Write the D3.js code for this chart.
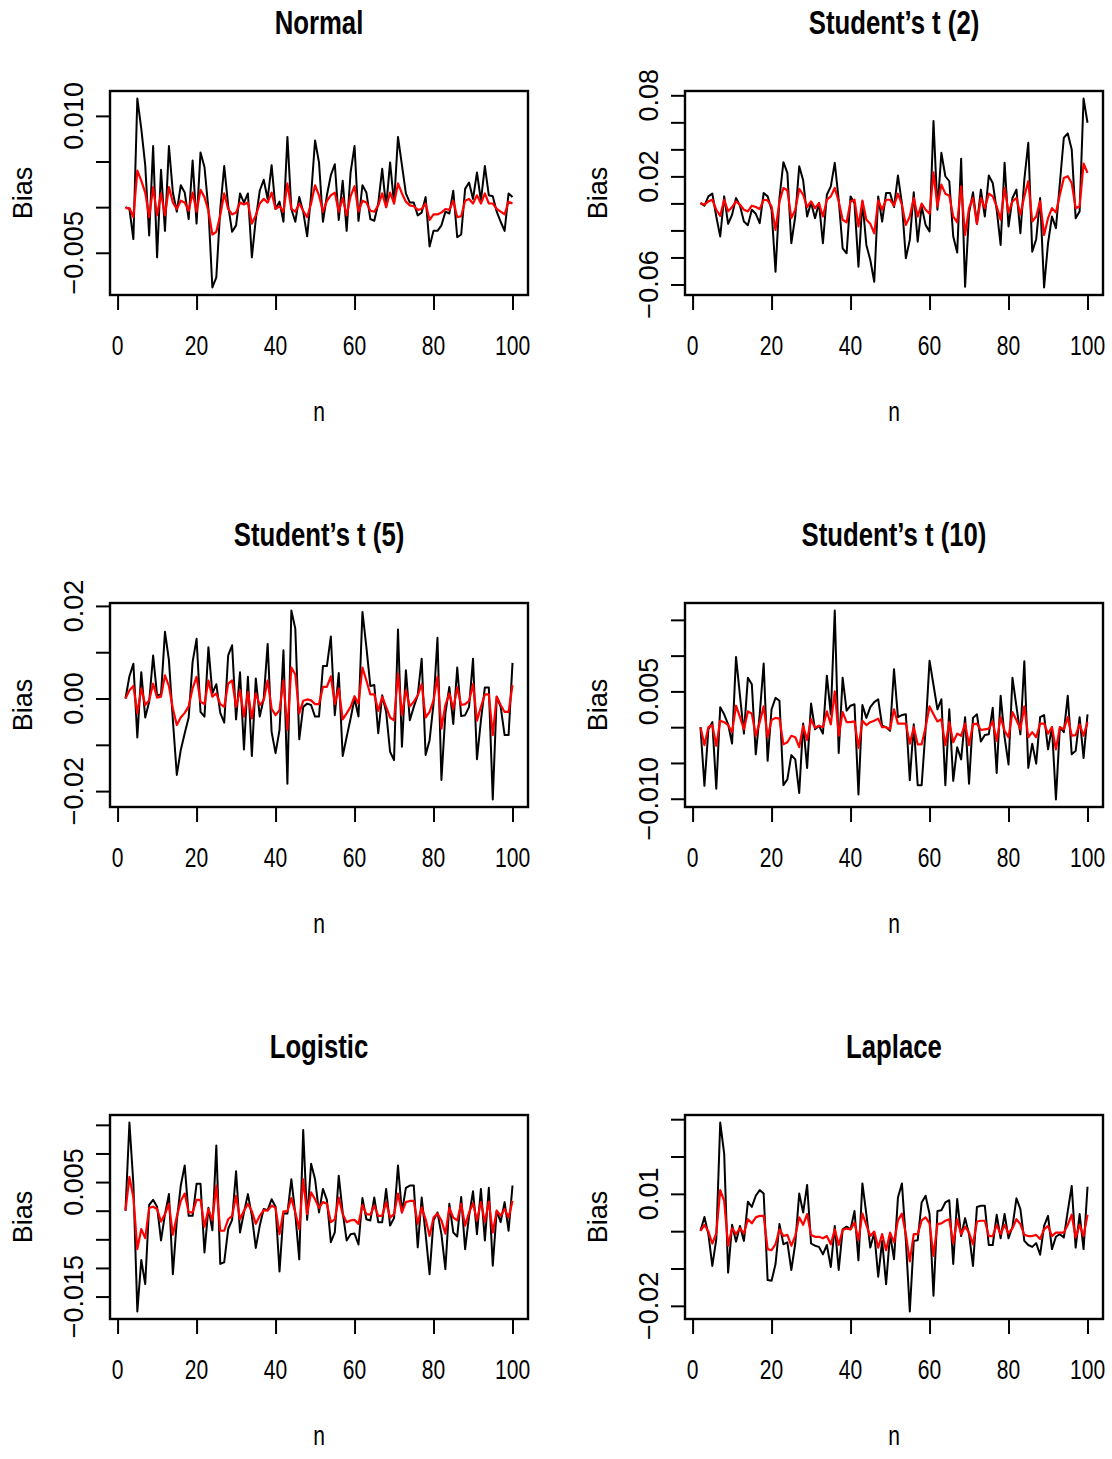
<!DOCTYPE html>
<html>
<head>
<meta charset="utf-8">
<script src="https://cdn.jsdelivr.net/npm/d3@7"></script>
<style>
  body { margin: 0; background: #fff; }
  text { font-family: "Liberation Sans", Arial, Helvetica, sans-serif; fill: #000; }
</style>
</head>
<body>
<div id="chart"></div>
<script>
// sample size n = 2..100 (x axis)
const nValues = d3.range(2, 101);
const xTicks = [0, 20, 40, 60, 80, 100];

// bias estimates, in units of 1e-3 (black and red curves)
const normalBlack = [0, -0.2, -3.5, 11.9, 8.6, 4.6, -3.1, 6.7, -5.5, 4.1, -2.6, 6.7, 1.6, -0.5, 2.4, 1.6, -1.3, 5.1, -1.8, 6.0, 4.4, -0.2, -8.8, -7.7, -0.2, 4.5, 0.2, -2.7, -2.0, 1.5, 0.5, 1.5, -5.5, -1.3, 1.8, 3.0, 0.9, 4.6, -0.2, 0.6, -1.6, 7.7, -0.2, -1.6, 1.1, -0.5, -3.2, 1.3,
  7.3, 4.9, -1.6, 1.3, 3.5, 4.7, -1.4, 2.9, -2.6, 3.8, 6.7, -1.5, 2.4, 1.6, -1.3, -1.5, 0.4, 4.2, 0, 4.9, 0.4, 7.7, 4.6, 1.5, 0.5, 0.5, -0.9, -0.6, 1.1, -4.3, -2.6, -2.6, -2.0, -0.5, -0.7, 1.8, -3.3, -3.0, 2.0, 2.7, 0.9, 3.8, 0.7, 4.5, 1.3, 1.2, -0.5, -1.6, -2.6, 1.5, 1.1];
const normalRed = [-0.1, -0.1, -1.1, 4.0, 2.9, 1.6, -1.1, 2.2, -0.9, 1.5, -0.9, 2.2, 0.5, -0.2, 0.7, 0.5, -0.4, 1.6, -0.5, 1.9, 1.1, -0.4, -3.0, -2.7, -0.9, 1.5, -0.2, -0.8, -0.6, 0.5, 0.3, 0.5, -1.8, -0.9, 0.4, 0.9, 0.5, 1.6, -0.2, 0.1, -0.5, 2.6, -0.2, -0.5, 0.4, -0.4, -1.1, 0.4,
  2.4, 1.3, -0.5, 0.7, 1.3, 1.6, -0.5, 1.0, -0.9, 1.2, 2.3, -0.5, 0.7, 0.5, -0.4, -0.5, 0.2, 1.5, 0, 1.6, 0.4, 2.6, 1.5, 0.6, 0.2, 0.1, -0.3, -0.2, 0.4, -1.4, -0.8, -0.8, -0.6, -0.2, -0.3, 0.7, -1.1, -1.0, 0.7, 0.9, 0.4, 1.3, 0.4, 1.5, 0.4, 0.4, -0.2, -0.5, -0.8, 0.6, 0.4];

const t2Black = [0.2, -1.7, 5.2, 7.2, -9.7, -24.5, 5.2, -15.1, -8.4, 4.0, -1.7, -13.4, -16.1, -4.7, -7.7, -14.6, 7.7, 5.2, -4.7, -50.6, 4.0, 30.5, 22.6, -29.5, -9.7, 27.5, 17.1, -9.7, 0.7, -10.9, 0.2, -29.5, 6.4, 12.6, 30.0, 2.7, -33.2, -36.9, 5.2, 0.2, -46.8, 1.5, -30.7, -41.9, -58.0, 5.2, -13.4, 7.7,
  7.7, -2.7, 20.6, 0.2, -40.6, -27.0, 8.2, -28.3, -2.2, -15.9, -20.8, 61.0, -4.7, 37.4, 20.1, 16.4, -24.5, -36.4, 33.0, -61.7, -7.2, 8.2, -15.1, 10.2, -9.7, 20.6, 15.1, -4.7, -30.7, 30.0, -17.1, 4.0, 10.2, -22.1, 17.6, 44.9, -35.7, -26.5, 4.0, -62.2, -29.5, -9.7, -18.3, 15.1, 48.6, 51.8, 39.9, -10.9, -5.9, 77.6, 59.7];
const t2Red = [0.2, -1.0, 1.5, 2.7, -4.7, -9.2, 2.7, -5.9, -2.7, 1.5, -1.0, -4.7, -5.9, -1.7, -2.7, -4.2, 2.7, 2.2, -2.2, -19.6, 1.5, 11.4, 9.7, -10.9, -4.7, 10.7, 6.4, -2.7, 1.5, -3.5, 0.2, -9.7, 2.7, 5.2, 11.4, 1.5, -12.1, -14.1, 1.5, 2.7, -17.1, 2.0, -12.1, -15.1, -22.1, 2.2, -4.7, 2.7,
  2.7, -1.7, 7.2, -1.0, -15.9, -9.7, 4.0, -9.7, -0.2, -4.7, -7.7, 23.0, -2.2, 13.9, 7.2, 5.7, -9.7, -14.1, 12.6, -23.3, -3.5, 4.0, -15.1, 4.0, -3.5, 7.2, 5.2, -2.2, -12.1, 11.4, -6.7, 1.5, 4.0, -8.4, 5.2, 16.4, -13.4, -9.7, 1.5, -23.3, -10.9, -3.5, -6.7, 6.4, 18.8, 20.1, 15.1, -3.5, -2.2, 29.5, 22.6];

const t5Black = [0, 4.8, 7.5, -8.4, 5.7, -4.1, -0.7, 9.3, 0.7, 0.9, 14.4, 8.3, -4.7, -16.5, -11.1, -7.5, -4.1, 7.9, 12.9, -2.9, -3.9, 11.1, 1.1, 3.1, -3.1, -5.2, 9.3, 11.5, -4.5, 5.7, -11.0, 4.7, -12.4, 4.3, -3.9, 0, 11.8, -7.2, -11.8, -6.8, 10.4, -18.4, 19.0, 15.1, -8.8, -1.8, -1.1, -1.4,
  -3.9, -3.9, 7.0, 7.0, 13.4, -3.6, 5.5, -12.4, -8.3, -4.3, 0, -3.9, 18.7, 11.1, 2.7, 2.9, -7.5, 0.7, -2.9, -11.5, -13.3, 14.9, -10.4, 6.1, -4.7, -1.8, 0.7, 8.6, -12.2, -9.0, -1.1, 13.1, -17.6, -3.2, 2.5, -5.5, 6.7, -3.8, -3.6, -1.8, 8.6, -13.1, -4.7, 2.4, 2.4, -21.8, 0.4, -1.8, -7.9, -7.9, 7.7];
const t5Red = [0, 1.8, 2.7, -3.2, 2.2, -1.4, -0.4, 3.2, 0.2, 0.4, 5.0, 2.7, -2.2, -5.7, -4.1, -3.1, -1.7, 2.2, 4.7, -0.7, -1.2, 3.9, 0.4, 1.1, -1.2, -1.8, 3.2, 3.9, -1.8, 1.8, -3.9, 1.4, -4.3, 1.1, -1.4, -0.4, 3.9, -2.2, -3.6, -2.5, 3.9, -6.8, 6.7, 5.2, -3.2, -0.5, -0.2, -0.4,
  -1.2, -1.2, 2.5, 2.5, 4.8, -1.2, 2.2, -4.5, -3.2, -1.8, 0.5, -1.1, 6.7, 3.9, 0.9, 0.9, -2.7, 0.4, -1.8, -4.1, -4.7, 5.4, -3.6, 1.8, -1.7, -0.7, 0.7, 3.1, -4.1, -2.9, -0.4, 4.7, -6.5, -1.4, 1.1, -2.2, 2.4, -1.4, -1.2, -0.5, 3.1, -4.8, -1.8, 0.9, 0.9, -7.9, 0.4, -1.4, -2.9, -2.9, 2.9];

const t10Black = [0, -8.2, -0.3, 0.7, -8.6, 2.8, 1.8, 0.4, -2.3, 9.8, 4.4, -0.9, 6.9, 6.0, -3.8, 1.8, 8.9, -4.7, 2.5, 4.1, 3.7, -8.1, -7.3, -3.9, -4.5, -9.2, 0.5, -5.7, 3.3, -0.3, 0.2, -0.9, 7.2, 1.8, 16.3, -3.6, 6.9, 2.3, 3.0, 3.2, -9.4, 3.1, 1.3, 2.8, 3.5, 3.9, 0.2, 0,
  -0.5, 8.1, 1.4, 1.7, 1.8, -7.4, 0.4, -8.1, -8.1, -0.3, 9.3, 5.9, 2.5, 3.9, -8.1, 2.5, -7.5, -2.8, -4.5, 1.4, -7.9, 1.3, 1.8, -2.0, -1.1, -1.0, 2.7, -6.4, 4.4, -1.4, -5.2, 6.9, 2.9, -1.0, 9.2, -5.7, -2.3, -5.1, 1.4, 1.7, -3.1, 0, -10.1, 0, -0.7, 4.4, -3.8, -3.3, 1.4, -4.3, 1.8];
const t10Red = [0, -2.5, 0, 0.3, -2.6, 0.9, 0.7, 0.3, -0.7, 3.0, 1.4, -0.3, 2.2, 1.9, -1.2, 0.7, 2.9, -1.4, 1.0, 1.3, 1.2, -2.4, -2.1, -1.2, -1.4, -2.8, 0.2, -1.8, 1.1, -0.1, 0.2, 0, 2.2, 0.4, 5.0, -1.2, 2.1, 0.7, 0.7, 0.8, -2.9, 0.9, 0.3, 0.7, 0.9, 1.2, 0, 0,
  -0.3, 2.5, 0.5, 0.5, 0.5, -2.3, 0, -2.4, -2.4, 0, 2.9, 1.8, 0.8, 1.1, -2.5, 0.7, -2.1, -0.9, -1.2, 0.5, -2.5, 0.4, 0.5, -0.4, -0.3, -0.2, 0.8, -1.9, 1.4, -0.5, -1.4, 2.1, 1.0, -0.3, 2.9, -1.4, -0.7, -1.4, 0.5, 0.5, -0.9, 0, -3.1, 0, -0.3, 1.4, -1.2, -1.1, 0.4, -1.2, 0.7];

const logisticBlack = [0, 15.4, 4.7, -17.6, -8.6, -12.8, 1.0, 1.9, 0.7, -5.2, -0.6, 2.9, -11.1, -1.7, 4.4, 7.9, -0.9, -0.9, 4.7, 4.7, -7.3, 0.5, -3.4, 11.4, -9.3, -9.0, -3.2, -1.6, 6.9, -3.8, -0.3, 2.9, -0.9, -6.5, -2.6, 0.3, 0.1, 2.0, 0.7, -10.6, -0.5, -0.5, 5.5, -0.6, -8.5, 14.1, -1.6, 8.2,
  5.5, -0.3, 3.8, 1.9, -5.5, -3.8, 6.1, -0.3, -5.2, -4.1, -4.0, -5.9, 2.2, -1.5, -1.7, 2.3, -2.0, -2.0, 3.8, -2.6, -1.3, 7.9, -0.3, 4.0, 4.4, 4.4, -6.4, 2.3, -4.1, -11.1, -1.7, -0.3, -4.1, -10.2, 1.2, -3.8, -4.5, 2.4, -6.7, -0.9, 3.4, -4.1, 3.8, -5.2, 4.0, -9.6, 0, -2.0, 1.5, -3.5, 4.4];
const logisticRed = [0, 5.9, 2.3, -6.7, -3.2, -4.8, 0.5, 0.7, 0.3, -1.9, -0.6, 1.2, -4.2, -1.0, 1.7, 3.0, -0.3, -0.3, 1.9, 1.9, -2.8, 0.3, -1.7, 4.4, -3.5, -3.5, -1.5, -0.9, 2.6, -1.5, 0, 1.2, -0.1, -2.3, -0.9, 0.1, 0, 0.9, 0.5, -4.1, -0.1, -0.1, 2.2, -0.3, -3.2, 5.5, -0.6, 3.2,
  2.0, 0.5, 1.5, 1.2, -2.0, -1.5, 2.3, -0.6, -2.0, -1.7, -1.6, -2.3, 1.0, -0.6, -0.7, 0.9, -0.9, -0.9, 1.5, -1.2, -0.6, 3.0, -0.3, 1.5, 1.7, 1.7, -2.3, 0.6, -1.5, -4.4, -1.2, -0.5, -1.7, -4.0, 0.5, -1.2, -1.7, 1.2, -2.6, -0.3, 1.3, -1.7, 1.5, -2.0, 1.6, -3.8, 0, -0.9, 0.3, -1.2, 1.7];

const laplaceBlack = [0.1, 3.8, -0.8, -9.3, -2.1, 29.1, 20.8, -11.1, 1.7, -2.8, 1.4, -2.6, 7.9, 6.5, 9.5, 11.0, 10.1, -13.1, -13.3, -8.8, 1.9, -3.5, -3.0, -10.4, -3.3, 10.1, 5.0, 12.4, -3.3, -3.9, -4.2, -6.2, -3.7, -9.6, 1.4, -10.4, 0.5, 1.2, 0.5, 5.4, -7.8, 12.8, 4.6, -4.4, -0.4, -12.2, -2.6, -14.2,
  -0.8, -7.5, 9.0, 12.8, -2.4, -21.5, -2.6, -2.4, 7.7, 9.5, 4.6, -17.3, 5.4, 5.6, 7.7, 8.3, -8.8, 8.6, -1.3, 3.5, -0.8, -9.3, 6.5, 6.8, 6.8, -3.7, -3.7, 4.4, -1.9, 4.6, -1.9, 1.2, 8.8, 5.9, -2.6, -3.7, -4.2, -3.2, -6.3, 1.4, 4.1, -4.8, -1.5, -0.8, -1.7, 5.4, 12.1, -4.4, 4.6, -4.8, 11.9];
const laplaceRed = [0.1, 1.7, -0.1, -3.3, -0.6, 11.0, 8.1, -3.9, 0.8, -0.8, 0.8, -0.6, 3.2, 2.1, 3.7, 4.1, 4.1, -4.8, -5.1, -3.5, 0.5, -1.3, -1.0, -3.9, -1.3, 3.7, 1.7, 4.6, -1.0, -1.5, -1.5, -1.9, -1.3, -3.5, 0.5, -3.7, 0.3, 0.7, 0.5, 2.3, -2.4, 4.7, 1.7, -1.3, -0.1, -4.4, -0.8, -5.1,
  -0.4, -3.0, 2.9, 4.7, -0.8, -8.1, -0.8, -0.8, 2.9, 3.7, 2.1, -6.6, 1.9, 2.1, 2.8, 3.2, -3.3, 3.2, -0.8, 1.2, -0.4, -3.5, 2.6, 2.8, 2.8, -1.3, -1.3, 1.7, -0.8, 1.7, -0.6, 0.8, 3.2, 1.9, -1.0, -1.3, -1.3, -1.0, -2.1, 0.5, 1.4, -1.3, -0.4, -0.4, -0.4, 1.7, 4.4, -1.7, 1.7, -1.3, 4.4];

// panel titles and y tick marks (units of 1e-3) with the labels R printed
const titles = ["Normal", "Student\u2019s t (2)", "Student\u2019s t (5)", "Student\u2019s t (10)", "Logistic", "Laplace"];
const yTickValues = [
  [-5, 0, 5, 10],
  [-60, -40, -20, 0, 20, 40, 60, 80],
  [-20, -10, 0, 10, 20],
  [-10, -5, 0, 5, 10, 15],
  [-15, -10, -5, 0, 5, 10, 15],
  [-20, -10, 0, 10, 20, 30]
];
const yTickLabels = [
  ["\u22120.005", "", "", "0.010"],
  ["\u22120.06", "", "", "", "0.02", "", "", "0.08"],
  ["\u22120.02", "", "0.00", "", "0.02"],
  ["\u22120.010", "", "", "0.005", "", ""],
  ["\u22120.015", "", "", "", "0.005", "", ""],
  ["\u22120.02", "", "", "0.01", "", ""]
];
const blackSeries = [normalBlack, t2Black, t5Black, t10Black, logisticBlack, laplaceBlack];
const redSeries = [normalRed, t2Red, t5Red, t10Red, logisticRed, laplaceRed];

// layout
const W = 1112, H = 1459;
const boxW = 418, boxH = 204;
const SX = 0.78;          // horizontal text is drawn narrow in the original
const fontSize = 27, titleSize = 33;

const svg = d3.select("#chart").append("svg")
    .attr("width", W)
    .attr("height", H)
    .style("background", "#fff");

titles.forEach(function(title, i) {
    const col = i % 2, row = Math.floor(i / 2);
    const left = 110 + col * 575, top = 91 + row * 512;

    const black = blackSeries[i], red = redSeries[i];

    // R style ranges: data range padded by 4%
    const xPad = (100 - 2) * 0.04;
    const x = d3.scaleLinear()
        .domain([2 - xPad, 100 + xPad])
        .range([left, left + boxW]);

    const ext = d3.extent(black.concat(red));
    const yPad = (ext[1] - ext[0]) * 0.04;
    const y = d3.scaleLinear()
        .domain([ext[0] - yPad, ext[1] + yPad])
        .range([top + boxH, top]);

    const g = svg.append("g");

    // x axis
    const xAxis = g.append("g")
        .attr("transform", `translate(0,${top + boxH})`)
        .call(d3.axisBottom(x).tickValues(xTicks).tickSize(15).tickSizeOuter(0).tickPadding(0).tickFormat(""));
    xAxis.select(".domain").remove();
    xAxis.selectAll(".tick line").attr("stroke", "#000").attr("stroke-width", 2);

    xTicks.forEach(function(v) {
        g.append("text")
            .attr("transform", `translate(${x(v)},${top + boxH + 60}) scale(${SX},1)`)
            .attr("text-anchor", "middle")
            .style("font-size", fontSize + "px")
            .text(v);
    });

    // y axis
    const yAxis = g.append("g")
        .attr("transform", `translate(${left},0)`)
        .call(d3.axisLeft(y).tickValues(yTickValues[i]).tickSize(14).tickSizeOuter(0).tickFormat(""));
    yAxis.select(".domain").remove();
    yAxis.selectAll(".tick line").attr("stroke", "#000").attr("stroke-width", 2);

    yTickValues[i].forEach(function(v, k) {
        const lab = yTickLabels[i][k];
        if (!lab) return;
        g.append("text")
            .attr("transform", `translate(${left - 27},${y(v)}) rotate(-90)`)
            .attr("text-anchor", "middle")
            .style("font-size", fontSize + "px")
            .text(lab);
    });

    // lines
    const line = function(vals) {
        return d3.line()
            .x((d, j) => x(nValues[j]))
            .y(d => y(d))(vals);
    };

    g.append("path")
        .attr("d", line(black))
        .attr("fill", "none")
        .attr("stroke", "#000")
        .attr("stroke-width", 2)
        .attr("stroke-linejoin", "round");

    g.append("path")
        .attr("d", line(red))
        .attr("fill", "none")
        .attr("stroke", "#ff0000")
        .attr("stroke-width", 2.2)
        .attr("stroke-linejoin", "round");

    // plot box
    g.append("rect")
        .attr("x", left)
        .attr("y", top)
        .attr("width", boxW)
        .attr("height", boxH)
        .attr("fill", "none")
        .attr("stroke", "#000")
        .attr("stroke-width", 2.4);

    // titles and axis labels
    g.append("text")
        .attr("transform", `translate(${left + boxW / 2},${top - 57}) scale(${SX},1)`)
        .attr("text-anchor", "middle")
        .style("font-size", titleSize + "px")
        .style("font-weight", "bold")
        .text(title);

    g.append("text")
        .attr("transform", `translate(${left + boxW / 2},${top + boxH + 126}) scale(${SX},1)`)
        .attr("text-anchor", "middle")
        .style("font-size", fontSize + "px")
        .text("n");

    g.append("text")
        .attr("transform", `translate(${left - 78},${top + boxH / 2}) rotate(-90)`)
        .attr("text-anchor", "middle")
        .style("font-size", fontSize + "px")
        .text("Bias");
});
</script>
</body>
</html>
